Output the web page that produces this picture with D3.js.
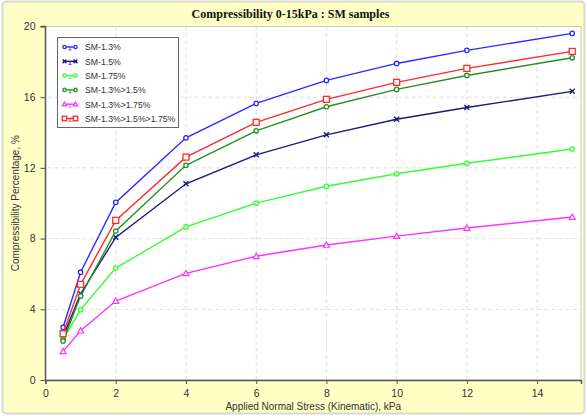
<!DOCTYPE html>
<html>
<head>
<meta charset="utf-8">
<script src="https://cdn.jsdelivr.net/npm/d3@7"></script>
<style>
  body { margin: 0; background: #fff; }
  svg { display: block; }
</style>
</head>
<body>
<div id="chart"></div>
<script>
// stress levels, kPa
const stress = [0.5, 1, 2, 4, 6, 8, 10, 12, 15];

const sm13 = [2.98, 6.1, 10.05, 13.7, 15.65, 16.95, 17.91, 18.65, 19.61];
const sm15 = [2.45, 4.88, 8.07, 11.1, 12.74, 13.87, 14.75, 15.42, 16.33];
const sm175 = [2.3, 3.98, 6.33, 8.66, 10.01, 10.96, 11.67, 12.26, 13.07];
const sm13_15 = [2.21, 4.75, 8.43, 12.15, 14.1, 15.46, 16.44, 17.23, 18.23];
const sm13_175 = [1.62, 2.79, 4.47, 6.03, 7.0, 7.64, 8.14, 8.6, 9.22];
const sm13_15_175 = [2.62, 5.41, 9.03, 12.61, 14.58, 15.88, 16.84, 17.63, 18.59];

const seriesNames = ["SM-1.3%", "SM-1.5%", "SM-1.75%", "SM-1.3%>1.5%", "SM-1.3%>1.75%", "SM-1.3%>1.5%>1.75%"];
const seriesValues = [sm13, sm15, sm175, sm13_15, sm13_175, sm13_15_175];
const seriesColors = ["#2b2bff", "#1a1a80", "#33ff33", "#259125", "#ff33ff", "#ff2b2b"];
const seriesMarkers = ["circle", "cross", "circle", "circle", "triangle", "square"];

const xTicks = [0, 2, 4, 6, 8, 10, 12, 14];
const yTicks = [0, 4, 8, 12, 16, 20];

const W = 587, H = 416;
const margin = { top: 26.5, right: 6, bottom: 36, left: 45.5 };

const svg = d3.select("#chart").append("svg")
  .attr("width", W)
  .attr("height", H)
  .attr("font-family", "Liberation Sans, Arial, sans-serif");

// outer frame
svg.append("rect")
  .attr("x", 2.5).attr("y", 1.5)
  .attr("width", W - 5).attr("height", H - 4)
  .attr("rx", 4)
  .attr("fill", "#ffffc6")
  .attr("stroke", "#d8d8d0")
  .attr("stroke-width", 2);

const x = d3.scaleLinear().domain([0, 15.25]).range([margin.left, W - margin.right]);
const y = d3.scaleLinear().domain([0, 20]).range([H - margin.bottom, margin.top]);

// plot area
svg.append("rect")
  .attr("x", x(0)).attr("y", y(20))
  .attr("width", x(15.25) - x(0)).attr("height", y(0) - y(20))
  .attr("fill", "#fff")
  .attr("stroke", "#c8c8c8");

// grid
const grid = svg.append("g").attr("stroke", "#dedede").attr("stroke-dasharray", "4,3");
grid.selectAll("line.v").data(xTicks.slice(1)).join("line")
  .attr("x1", d => x(d)).attr("x2", d => x(d))
  .attr("y1", y(0)).attr("y2", y(20));
grid.selectAll("line.h").data(yTicks.slice(1, -1)).join("line")
  .attr("x1", x(0) - 5).attr("x2", x(15.25))
  .attr("y1", d => y(d)).attr("y2", d => y(d));

// axes
const xAxis = svg.append("g")
  .attr("transform", `translate(0,${y(0)})`)
  .call(d3.axisBottom(x).tickValues(xTicks).tickSize(4).tickPadding(6));
const yAxis = svg.append("g")
  .attr("transform", `translate(${x(0)},0)`)
  .call(d3.axisLeft(y).tickValues(yTicks).tickSize(5).tickPadding(5));
[xAxis, yAxis].forEach(a => {
  a.select(".domain").attr("stroke", "#555").attr("stroke-width", 1.5);
  a.selectAll(".tick line").attr("stroke", "#555");
  a.selectAll("text").attr("fill", "#333").attr("font-size", 10.5).attr("font-family", "Liberation Sans, Arial, sans-serif");
});
yAxis.select(".domain").attr("d", `M-5,${y(20)}H0V${y(0)}`);

// titles
svg.append("text")
  .attr("x", W / 2 - 3).attr("y", 18)
  .attr("text-anchor", "middle")
  .attr("font-family", "Liberation Serif, Times New Roman, serif")
  .attr("font-weight", "bold")
  .attr("font-size", 12)
  .attr("fill", "#111")
  .text("Compressibility 0-15kPa : SM samples");

svg.append("text")
  .attr("x", (x(0) + x(15.25)) / 2).attr("y", 410)
  .attr("text-anchor", "middle")
  .attr("font-size", 10)
  .attr("fill", "#333")
  .text("Applied Normal Stress (Kinematic), kPa");

svg.append("text")
  .attr("transform", `translate(19,${(y(0) + y(20)) / 2}) rotate(-90)`)
  .attr("text-anchor", "middle")
  .attr("font-size", 10)
  .attr("fill", "#333")
  .text("Compressibility Percentage, %");

function drawMarker(g, type, color, cx, cy, s = 1) {
  if (type === "circle") {
    g.append("circle").attr("cx", cx).attr("cy", cy).attr("r", 2.2 * s)
      .attr("fill", "#fff").attr("stroke", color).attr("stroke-width", 1.3);
  } else if (type === "square") {
    g.append("rect").attr("x", cx - 3 * s).attr("y", cy - 3 * s).attr("width", 6 * s).attr("height", 6 * s)
      .attr("fill", "#fff").attr("stroke", color).attr("stroke-width", 1.3);
  } else if (type === "triangle") {
    g.append("path").attr("d", `M${cx},${cy - 3 * s}L${cx + 3 * s},${cy + 2.3 * s}L${cx - 3 * s},${cy + 2.3 * s}Z`)
      .attr("fill", "#fff").attr("stroke", color).attr("stroke-width", 1.2);
  } else if (type === "cross") {
    g.append("path").attr("d", `M${cx - 2.5 * s},${cy - 2.5 * s}L${cx + 2.5 * s},${cy + 2.5 * s}M${cx - 2.5 * s},${cy + 2.5 * s}L${cx + 2.5 * s},${cy - 2.5 * s}`)
      .attr("stroke", color).attr("stroke-width", 1.4);
  }
}

const line = d3.line().x((d, i) => x(stress[i])).y(d => y(d));

seriesValues.forEach((vals, k) => {
  const g = svg.append("g");
  g.append("path").datum(vals)
    .attr("d", line)
    .attr("fill", "none")
    .attr("stroke", seriesColors[k])
    .attr("stroke-width", 1.4);
  vals.forEach((v, i) => drawMarker(g, seriesMarkers[k], seriesColors[k], x(stress[i]), y(v)));
});

// legend
const legend = svg.append("g");
legend.append("rect")
  .attr("x", 57.5).attr("y", 37.5)
  .attr("width", 121).attr("height", 90)
  .attr("fill", "#fff")
  .attr("stroke", "#666");
seriesNames.forEach((name, k) => {
  const ly = 47 + k * 14.3;
  const c = seriesColors[k];
  legend.append("line").attr("x1", 63).attr("x2", 77).attr("y1", ly).attr("y2", ly)
    .attr("stroke", c).attr("stroke-width", 1.4);
  legend.append("line").attr("x1", 70).attr("x2", 70).attr("y1", ly).attr("y2", ly + 3)
    .attr("stroke", c).attr("stroke-width", 0.8);
  legend.append("line").attr("x1", 68.5).attr("x2", 71.5).attr("y1", ly + 3).attr("y2", ly + 3)
    .attr("stroke", c).attr("stroke-width", 0.8);
  drawMarker(legend, seriesMarkers[k], c, 64.5, ly, 0.75);
  drawMarker(legend, seriesMarkers[k], c, 75.5, ly, 0.75);
  legend.append("text")
    .attr("x", 85).attr("y", ly + 3.3)
    .attr("font-size", 8.7)
    .attr("fill", "#333")
    .text(name);
});
</script>
</body>
</html>
